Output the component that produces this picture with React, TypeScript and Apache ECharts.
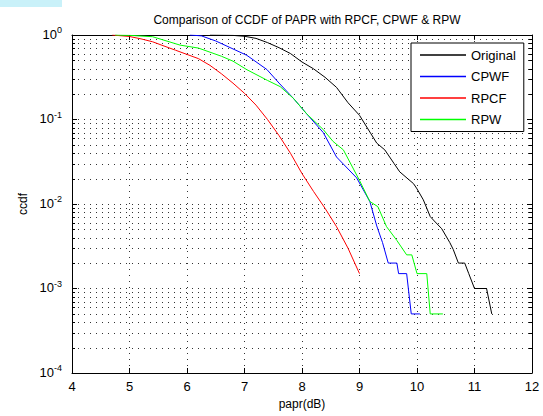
import React, { useEffect, useRef } from "react";
import * as echarts from "echarts";

const titleText = "Comparison of CCDF of PAPR with RPCF, CPWF & RPW";
const xName = "papr(dB)";
const yName = "ccdf";
const legendNames = ["Original", "CPWF", "RPCF", "RPW"];

const xTicks = [4, 5, 6, 7, 8, 9, 10, 11, 12];
const yDecades = [0.0001, 0.001, 0.01, 0.1, 1];
const minorMantissas = [2, 3, 4, 5, 6, 7, 8, 9];

// Original (black)
const origX = [6.4, 6.8, 7.0, 7.2, 7.4, 7.6, 7.8, 8.0, 8.2, 8.4, 8.6, 8.8, 9.0, 9.2, 9.3, 9.44, 9.6, 9.7, 9.94, 10.0, 10.11, 10.23, 10.3, 10.43, 10.57, 10.63, 10.72, 10.83, 10.9, 11.0, 11.21, 11.3];
const origY = [1.0, 0.989, 0.966, 0.912, 0.813, 0.708, 0.603, 0.479, 0.398, 0.316, 0.24, 0.158, 0.112, 0.0676, 0.0525, 0.0437, 0.0302, 0.024, 0.0174, 0.0151, 0.0112, 0.0071, 0.0063, 0.0051, 0.0035, 0.0029, 0.002, 0.002, 0.0015, 0.001, 0.001, 0.0005];

// CPWF (blue)
const cpwfX = [6.05, 6.25, 6.5, 7.04, 7.39, 7.6, 7.85, 8.08, 8.37, 8.6, 8.95, 9.18, 9.3, 9.4, 9.5, 9.65, 9.68, 9.82, 9.9, 10.05];
const cpwfY = [1.0, 0.977, 0.85, 0.575, 0.39, 0.27, 0.178, 0.117, 0.07, 0.036, 0.0204, 0.0107, 0.0055, 0.0035, 0.002, 0.002, 0.0015, 0.0015, 0.0005, 0.0005];

// RPCF (red)
const rpcfX = [4.7, 5.0, 5.2, 5.4, 5.6, 5.8, 6.0, 6.2, 6.4, 6.6, 6.8, 7.0, 7.2, 7.4, 7.6, 7.8, 8.0, 8.2, 8.4, 8.6, 8.8, 9.0];
const rpcfY = [1.0, 0.96, 0.9, 0.832, 0.741, 0.661, 0.589, 0.525, 0.437, 0.347, 0.269, 0.204, 0.148, 0.1, 0.0646, 0.0398, 0.0229, 0.0141, 0.0089, 0.0054, 0.003, 0.0015];

// RPW (green)
const rpwX = [4.75, 5.0, 5.4, 5.88, 6.2, 6.6, 6.8, 7.04, 7.4, 7.62, 7.85, 8.08, 8.37, 8.54, 8.72, 9.0, 9.18, 9.32, 9.47, 9.65, 9.82, 9.91, 10.0, 10.17, 10.23, 10.45];
const rpwY = [1.0, 0.99, 0.955, 0.759, 0.7, 0.56, 0.49, 0.389, 0.29, 0.245, 0.178, 0.117, 0.076, 0.055, 0.0437, 0.019, 0.0107, 0.0093, 0.0054, 0.0037, 0.0025, 0.0025, 0.0015, 0.0015, 0.0005, 0.0005];

const colors = ["#000000", "#0000ff", "#ff0000", "#00ff00"];

const FONT = "'Liberation Sans', Arial, sans-serif";

function pairs(xs: number[], ys: number[]) {
  return xs.map((x, i) => [x, ys[i]]);
}

export default function App() {
  const ref = useRef<HTMLDivElement>(null);
  useEffect(() => {
    if (!ref.current) return;
    const chart = echarts.init(ref.current, null, { renderer: "svg" });
    const minorValues: number[] = [];
    yDecades.slice(0, -1).forEach((d) => minorMantissas.forEach((m) => minorValues.push(m * d)));

    const gridColor = "#333";
    const dotted = { color: gridColor, width: 1, type: [1, 5] as any };

    const lineSeries = (name: string, data: number[][], color: string) => ({
      name,
      type: "line",
      data,
      symbol: "none",
      showSymbol: false,
      lineStyle: { color, width: 1 },
      itemStyle: { color },
      z: 3,
      silent: true,
    });

    chart.setOption({
      animation: false,
      backgroundColor: "#fff",
      textStyle: { fontFamily: FONT },
      title: {
        text: titleText,
        left: 302,
        top: 9,
        textAlign: "center",
        textStyle: { fontFamily: FONT, fontSize: 12, fontWeight: "normal", color: "#000" },
      },
      grid: { left: 72, top: 35, right: 11, bottom: 43, show: false },
      legend: {
        data: legendNames.map((n) => ({ name: n, icon: "rect" })),
        orient: "vertical",
        left: 411,
        top: 43,
        padding: [5, 8, 5, 9],
        itemWidth: 46,
        itemHeight: 1.5,
        itemGap: 7.5,
        backgroundColor: "#fff",
        borderColor: "#000",
        borderWidth: 1,
        borderRadius: 0,
        textStyle: { fontFamily: FONT, fontSize: 13, color: "#000", lineHeight: 14 },
      },
      xAxis: [
        {
          type: "value",
          min: xTicks[0],
          max: xTicks[xTicks.length - 1],
          interval: 1,
          name: xName,
          nameLocation: "middle",
          nameGap: 24,
          nameTextStyle: { fontFamily: FONT, fontSize: 12, color: "#000" },
          axisLine: { show: true, lineStyle: { color: "#000", width: 1 } },
          axisTick: { show: true, inside: true, length: 5, lineStyle: { color: "#000" } },
          axisLabel: { fontFamily: FONT, fontSize: 13, color: "#000", margin: 7 },
          splitLine: { show: true, lineStyle: dotted },
        },
        {
          type: "value",
          position: "top",
          min: xTicks[0],
          max: xTicks[xTicks.length - 1],
          interval: 1,
          axisLine: { show: true, lineStyle: { color: "#000", width: 1 } },
          axisTick: { show: true, inside: true, length: 5, lineStyle: { color: "#000" } },
          axisLabel: { show: false },
          splitLine: { show: false },
        },
      ],
      yAxis: [
        {
          type: "log",
          logBase: 10,
          min: yDecades[0],
          max: yDecades[yDecades.length - 1],
          interval: 1,
          name: yName,
          nameLocation: "middle",
          nameGap: 40,
          nameRotate: 90,
          nameTextStyle: { fontFamily: FONT, fontSize: 12, color: "#000" },
          axisLine: { show: true, lineStyle: { color: "#000", width: 1 } },
          axisTick: { show: true, inside: true, length: 5, lineStyle: { color: "#000" } },
          axisLabel: {
            fontFamily: FONT,
            color: "#000",
            margin: 10,
            formatter: (v: number) => "{b|10}{s|" + Math.round(Math.log10(v)) + "}",
            rich: {
              b: { fontFamily: FONT, fontSize: 13, color: "#000", verticalAlign: "bottom", lineHeight: 15 },
              s: { fontFamily: FONT, fontSize: 9, color: "#000", verticalAlign: "top", lineHeight: 10, padding: [0, 0, 7, 0] },
            },
            padding: [0, 0, 4, 0],
          },
          splitLine: { show: true, lineStyle: dotted },
        },
        {
          type: "log",
          logBase: 10,
          position: "right",
          min: yDecades[0],
          max: yDecades[yDecades.length - 1],
          interval: 1,
          axisLine: { show: true, lineStyle: { color: "#000", width: 1 } },
          axisTick: { show: true, inside: true, length: 5, lineStyle: { color: "#000" } },
          axisLabel: { show: false },
          splitLine: { show: false },
        },
      ],
      graphic: [
        { type: "rect", left: 0, top: 0, shape: { width: 62, height: 7 }, style: { fill: "#c9f1f9" }, z: 0 },
      ],
      series: [
        {
          type: "custom",
          silent: true,
          z: 1,
          xAxisIndex: 0,
          yAxisIndex: 0,
          coordinateSystem: "cartesian2d",
          clip: false,
          data: minorValues.map((v) => [xTicks[0], v]),
          renderItem: (params: any, api: any) => {
            const p = api.coord([api.value(0), api.value(1)]);
            const cs = params.coordSys;
            const y = Math.round(p[1]) + 0.5;
            return {
              type: "group",
              children: [
                { type: "line", shape: { x1: cs.x, y1: y, x2: cs.x + cs.width, y2: y }, style: { stroke: gridColor, lineWidth: 1, lineDash: [1, 5] } },
                { type: "line", shape: { x1: cs.x, y1: y, x2: cs.x + 3, y2: y }, style: { stroke: "#000", lineWidth: 1 } },
                { type: "line", shape: { x1: cs.x + cs.width - 3, y1: y, x2: cs.x + cs.width, y2: y }, style: { stroke: "#000", lineWidth: 1 } },
              ],
            };
          },
        },
        lineSeries(legendNames[0], pairs(origX, origY), colors[0]),
        lineSeries(legendNames[1], pairs(cpwfX, cpwfY), colors[1]),
        lineSeries(legendNames[2], pairs(rpcfX, rpcfY), colors[2]),
        lineSeries(legendNames[3], pairs(rpwX, rpwY), colors[3]),
      ],
    });
    return () => chart.dispose();
  }, []);
  return (
    <div
      ref={ref}
      style={{ position: "fixed", left: 0, top: 0, width: 543, height: 416, background: "#fff" }}
    />
  );
}
